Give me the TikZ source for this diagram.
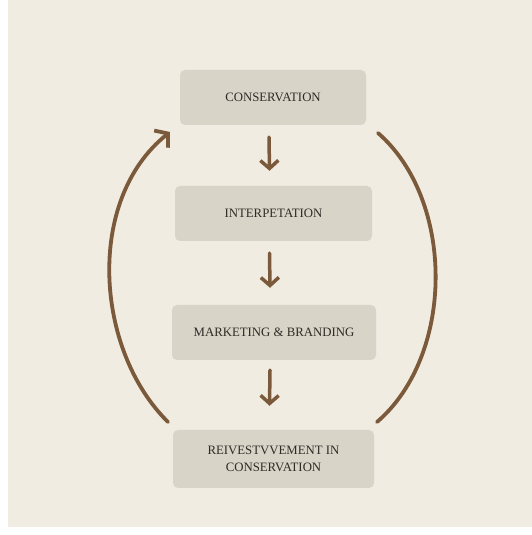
\documentclass[tikz,border=0pt]{standalone}
\usepackage{fontspec}
\setmainfont{Liberation Serif}
\usetikzlibrary{arrows.meta}
\definecolor{paper}{HTML}{F1ECE1}
\definecolor{boxfill}{HTML}{D9D4C8}
\definecolor{flow}{HTML}{7B5A3B}
\definecolor{ink}{HTML}{2E2A26}
\tikzset{
  stage/.style={draw=none, fill=boxfill, rounded corners=5pt, text=ink,
    font=\fontsize{12.8}{17}\selectfont, align=center, inner sep=0pt},
  flowline/.style={draw=flow, line width=3.8pt, line cap=round},
  downarrow/.style={flowline, line width=3.5pt, -{Straight Barb[length=8pt,width=18pt,line width=3.5pt]}},
}
\begin{document}
\begin{tikzpicture}[x=1pt,y=1pt]
  \useasboundingbox (0,0) rectangle (532,535);
  \fill[white] (0,0) rectangle (532,535);
  \fill[paper] (8,8) rectangle (532,535);

  % stages
  \node[stage, minimum width=186pt, minimum height=55pt] (s1) at (273,437.5) {CONSERVATION};
  \node[stage, minimum width=197pt, minimum height=55pt] (s2) at (273.5,321.5) {INTERPETATION};
  \node[stage, minimum width=204pt, minimum height=55pt] (s3) at (274,202.5) {MARKETING \& BRANDING};
  \node[stage, minimum width=201pt, minimum height=58pt] (s4) at (273.5,76) {REIVESTVVEMENT IN\\CONSERVATION};

  % vertical flow between stages
  \draw[downarrow] ([xshift=-4pt,yshift=-12pt]s1.south) -- ([xshift=-4pt,yshift=15pt]s2.north);
  \draw[downarrow] ([xshift=-4pt,yshift=-12pt]s2.south) -- ([xshift=-4pt,yshift=17pt]s3.north);
  \draw[downarrow] ([xshift=-4pt,yshift=-10pt]s3.south) -- ([xshift=-4pt,yshift=24pt]s4.north);

  % return loop
  \coordinate (lb) at (168,113);
  \coordinate (lt) at (170,403);
  \coordinate (rt) at (378,402);
  \coordinate (rb) at (377,113);
  \draw[flowline, -{Straight Barb[length=9pt,width=22pt,line width=3.8pt]}]
    (lb) .. controls (95,185) and (85,335) .. (lt);
  \draw[flowline] (rt) .. controls (455,335) and (455,180) .. (rb);
\end{tikzpicture}
\end{document}
